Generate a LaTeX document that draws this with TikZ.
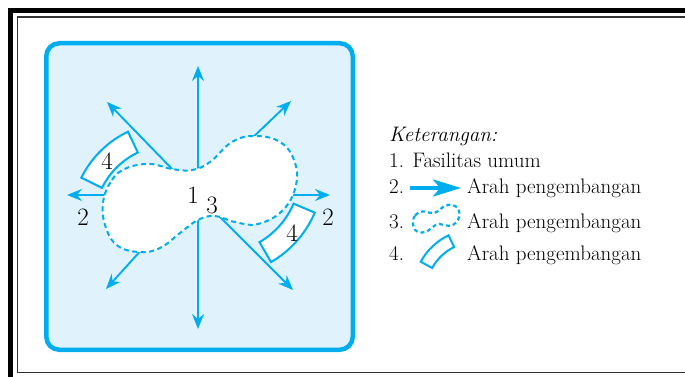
\documentclass[tikz,border=0pt]{standalone}
\usepackage{tikz}
\usetikzlibrary{arrows.meta,calc}

\definecolor{sian}{HTML}{00AEEF}
\definecolor{sianmuda}{HTML}{E0F3FC}

\tikzset{
  panah/.style={draw=sian, line width=1.9pt, -{Stealth[length=15pt,width=12pt,inset=5pt]}},
  panahket/.style={draw=sian, line width=4pt, -{Stealth[length=28pt,width=17pt,inset=7pt]}},
  batas/.style={draw=sian, line width=2pt, dash pattern=on 5pt off 3.5pt, fill=white},
  pita/.style={draw=sian, line width=2pt, fill=white},
  angka/.style={font=\fontsize{25}{28}\selectfont, inner sep=0pt},
  ket/.style={font=\fontsize{21}{25}\selectfont, anchor=base west, inner sep=0pt},
}

% kawasan berbentuk gumpalan (garis putus-putus)
\newcommand{\gumpal}[1]{\draw[#1] plot[smooth cycle, tension=0.7] coordinates {
  (103,203) (112,180) (127,168) (150,164) (172,169) (192,170) (210,162) (232,142)
  (255,136) (280,142) (294,160) (296,185) (283,210) (258,224) (235,222) (215,216)
  (198,220) (180,233) (160,248) (140,252) (118,246) (106,228)};}

% pita melengkung: pusat, sudut awal, sudut akhir, jari dalam, jari luar
\newcommand{\pita}[5]{\draw[pita] ($(#1)+(#2:#4)$) arc[start angle=#2, end angle=#3, radius=#4]
  -- ($(#1)+(#3:#5)$) arc[start angle=#3, end angle=#2, radius=#5] -- cycle;}

\begin{document}
\begin{tikzpicture}[x=1pt, y=-1pt]
  \useasboundingbox (0,0) rectangle (685,377);

  % bingkai
  \draw[line width=5pt] (10.5,377) -- (10.5,10.5) -- (685,10.5);
  \draw[line width=1.4pt, black!80] (685,17) -- (17.3,17) -- (17.3,372.7) -- (685,372.7);

  % panel biru
  \draw[draw=sian, fill=sianmuda, line width=4.5pt, rounded corners=13pt] (46.25,43.25) rectangle (352.75,349.75);

  % pita (4)
  \coordinate (pusatA) at (171,222);
  \coordinate (pusatB) at (219,172);
  \pita{pusatA}{115.5}{153.7}{77pt}{100pt}
  \pita{pusatB}{-60}{-23}{81pt}{104pt}

  % arah pengembangan (2)
  \coordinate (sU) at (198,176);   \coordinate (tU) at (198,66);
  \coordinate (sD) at (198,214);   \coordinate (tD) at (198,329);
  \coordinate (sUL) at (176,173);  \coordinate (tUL) at (107,102);
  \coordinate (sUR) at (249,141);  \coordinate (tUR) at (291,101);
  \coordinate (sL) at (108,195);   \coordinate (tL) at (67,195);
  \coordinate (sR) at (290,195);   \coordinate (tR) at (330,195);
  \coordinate (sLL) at (144,247);  \coordinate (tLL) at (106,289);
  \coordinate (sLR) at (216,213);  \coordinate (tLR) at (293,290);
  \foreach \a/\b in {sU/tU, sD/tD, sUL/tUL, sUR/tUR, sL/tL, sR/tR, sLL/tLL, sLR/tLR}
    \draw[panah] (\a) -- (\b);

  % fasilitas umum (1) dan batas (3)
  \gumpal{batas}

  \node[angka] (n1) at (193,195) {1};
  \node[angka] (n3) at (212,205) {3};
  \node[angka] (n2a) at (83,217) {2};
  \node[angka] (n2b) at (328,217) {2};
  \node[angka] (n4a) at (107,161) {4};
  \node[angka] (n4b) at (292,233) {4};

  % keterangan
  \node[ket, font=\fontsize{21}{25}\selectfont\itshape] (judul) at (389,142) {Keterangan:};
  \node[ket] (k1) at (389,167) {1. Fasilitas umum};
  \node[ket] (k2) at (389,193) {2.};
  \node[ket] (k2t) at (467,193) {Arah pengembangan};
  \node[ket] (k3) at (389,228) {3.};
  \node[ket] (k3t) at (467,228) {Arah pengembangan};
  \node[ket] (k4) at (389,260) {4.};
  \node[ket] (k4t) at (467,260) {Arah pengembangan};

  \coordinate (kA) at (410,188);
  \coordinate (kB) at (461,188);
  \draw[panahket] (kA) -- (kB);
  \begin{scope}[shift={(388.2,172.1)}, scale=0.24]
    \gumpal{batas, line width=2.2pt, dash pattern=on 4pt off 3pt}
  \end{scope}
  \coordinate (pusatC) at (476,292);
  \pita{pusatC}{115.9}{151.3}{50pt}{63pt}
\end{tikzpicture}
\end{document}
